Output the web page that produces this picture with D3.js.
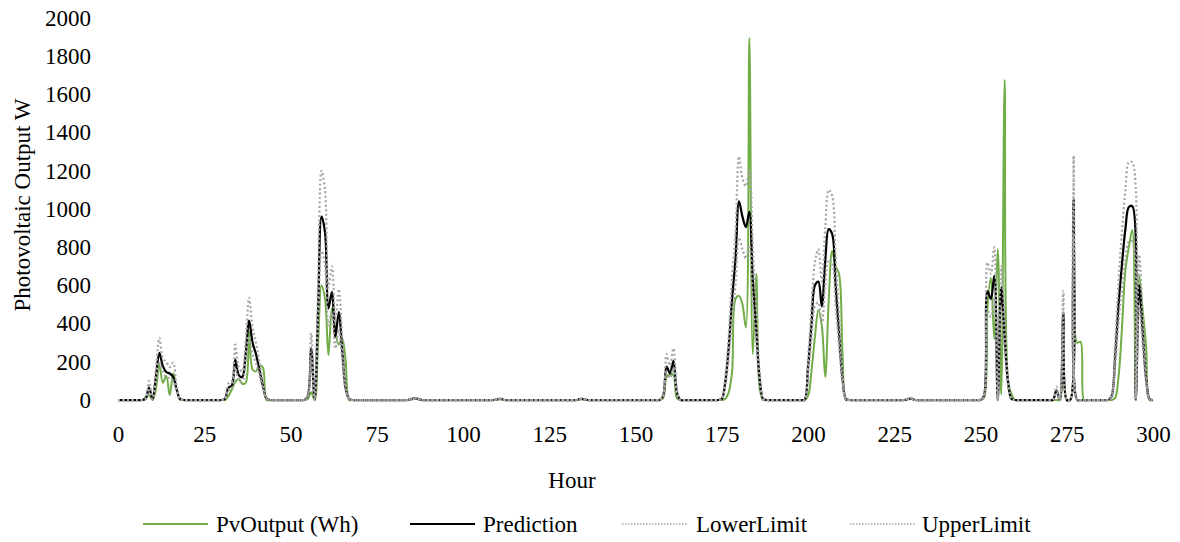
<!DOCTYPE html>
<html><head><meta charset="utf-8">
<script src="https://cdn.jsdelivr.net/npm/d3@7"></script>
<style>
body{margin:0;background:#fff}
svg{display:block}
</style>
</head><body>
<svg id="chart" width="1180" height="542"></svg>
<script>
// ---- data (hours 0..300; hours outside the listed segments are 0) ----
const xTicks = [0,25,50,75,100,125,150,175,200,225,250,275,300];
const yTicks = [0,200,400,600,800,1000,1200,1400,1600,1800,2000];
const seriesNames = ["PvOutput (Wh)","Prediction","LowerLimit","UpperLimit"];
const segmentStart = [7, 30, 54, 84, 109, 133, 157, 174, 198, 228, 249, 270, 286];

const pvOutput = [
  [0,15,25,0,60,185,90,125,25,140,60,0,0],
  [0,0,20,55,95,110,85,90,360,160,150,180,170,0,0,0],
  [0,5,40,0,300,600,530,235,480,360,290,320,200,0,0],
  [0,3,5,4,0],
  [0,3,4,0],
  [0,4,3,0],
  [0,10,120,135,130,10,0],
  [0,0,5,40,150,530,545,500,380,1895,240,660,60,0,0],
  [0,0,20,150,330,470,390,120,520,780,700,660,250,0,0],
  [0,4,5,0],
  [0,0,10,480,640,320,790,30,1675,100,30,0,0],
  [0,0,0,0,230,0,0,950,300,305,0,0],
  [0,0,0,10,120,375,680,800,890,0,650,470,280,0,0]
];
const prediction = [
  [0,5,65,5,125,247,177,146,139,121,55,5,0],
  [0,5,65,75,212,130,120,240,415,300,240,160,75,10,0,0],
  [0,20,270,0,470,960,880,480,565,330,460,260,60,5,0],
  [0,5,8,6,0],
  [0,5,6,0],
  [0,6,5,0],
  [0,20,175,140,205,40,0],
  [0,5,90,270,530,740,1040,960,905,985,630,370,110,5,0],
  [0,0,170,390,600,620,490,730,895,870,600,350,110,5,0],
  [0,6,7,0],
  [0,0,20,570,530,650,0,590,330,90,5,0,0],
  [0,0,50,0,458,0,0,1048,0,0,0,0],
  [0,0,20,220,495,710,895,1010,1015,0,600,360,115,5,0]
];
const lowerLimit = [
  [0,4,50,4,100,200,145,120,114,100,45,4,0],
  [0,4,50,60,170,105,95,195,335,240,195,130,60,8,0,0],
  [0,15,215,0,380,780,710,390,460,270,370,210,50,4,0],
  [0,4,6,5,0],
  [0,4,5,0],
  [0,5,4,0],
  [0,15,140,115,165,30,0],
  [0,4,75,220,430,610,850,790,740,810,520,300,90,4,0],
  [0,0,140,320,490,510,400,600,735,715,490,285,90,4,0],
  [0,5,6,0],
  [0,0,15,470,435,535,0,485,270,75,4,0,0],
  [0,0,40,0,375,0,0,860,0,0,0,0],
  [0,0,15,180,405,580,735,830,830,0,490,295,95,4,0]
];
const upperLimit = [
  [0,6,100,6,160,325,220,198,172,195,70,6,0],
  [0,6,85,100,290,170,150,300,535,380,300,200,90,12,0,0],
  [0,25,350,0,600,1200,1100,590,700,410,580,320,80,6,0],
  [0,6,10,7,0],
  [0,6,7,0],
  [0,7,6,0],
  [0,25,240,180,270,55,0],
  [0,6,115,330,650,880,1275,1160,1120,1200,800,480,140,6,0],
  [0,0,210,480,720,790,620,900,1100,1070,750,440,140,6,0],
  [0,7,8,0],
  [0,0,25,720,660,800,0,700,420,110,6,0,0],
  [0,0,70,0,570,0,0,1280,0,0,0,0],
  [0,0,25,280,620,880,1100,1245,1245,0,760,440,150,6,0]
];

// ---- assemble full hourly series from the segments ----
function expand(segs){
  const out = d3.range(0,301).map(h => ({h, v:0}));
  segs.forEach((vals,i) => vals.forEach((v,j) => { out[segmentStart[i]+j].v = v; }));
  return out;
}
const series = [
  {name:seriesNames[0], data:expand(pvOutput),   color:"#70AD47", width:2,   dash:null},
  {name:seriesNames[1], data:expand(prediction), color:"#000000", width:2.25,dash:null},
  {name:seriesNames[2], data:expand(lowerLimit), color:"#A6A6A6", width:2.25,dash:"2,2.5"},
  {name:seriesNames[3], data:expand(upperLimit), color:"#A6A6A6", width:2.25,dash:"2,2.5"}
];

const FONT = "'Liberation Serif', Tinos, 'Times New Roman', 'DejaVu Serif', serif";
const FS = "23px";

const svg = d3.select("#chart");
const x = d3.scaleLinear().domain([0,300]).range([118,1153]);
const y = d3.scaleLinear().domain([0,2000]).range([400,18]);

// axes (labels only)
const gx = svg.append("g").attr("transform","translate(0,400)")
  .call(d3.axisBottom(x).tickValues(xTicks).tickSize(0).tickPadding(26).tickFormat(d3.format("d")));
gx.select(".domain").remove();
gx.attr("font-family", FONT).attr("font-size", null);
gx.selectAll("text").style("font-family", FONT).style("font-size", FS).attr("fill","#000");

const gy = svg.append("g").attr("transform","translate(91,0)")
  .call(d3.axisLeft(y).tickValues(yTicks).tickSize(0).tickPadding(0).tickFormat(d3.format("d")));
gy.select(".domain").remove();
gy.attr("font-family", FONT).attr("font-size", null);
gy.selectAll("text").style("font-family", FONT).style("font-size", FS).attr("fill","#000");

// lines
const line = d3.line().x(d => x(d.h)).y(d => y(d.v)).curve(d3.curveCatmullRom.alpha(0.5));
series.forEach(s => {
  svg.append("path").datum(s.data)
    .attr("d", line)
    .attr("fill","none")
    .attr("stroke", s.color)
    .attr("stroke-width", s.width)
    .attr("stroke-dasharray", s.dash)
    .attr("stroke-linejoin","round");
});

// axis titles
svg.append("text").attr("x",572).attr("y",480).attr("text-anchor","middle")
  .attr("dominant-baseline","central").style("font-family",FONT).style("font-size",FS).text("Hour");
svg.append("text").attr("transform","translate(22,205) rotate(-90)").attr("text-anchor","middle")
  .attr("dominant-baseline","central").style("font-family",FONT).style("font-size",FS).text("Photovoltaic Output W");

// legend
const legendPos = [
  {x1:143, x2:208, tx:216},
  {x1:410, x2:475, tx:483},
  {x1:622, x2:687, tx:696},
  {x1:850, x2:915, tx:922}
];
const lg = svg.append("g");
series.forEach((s,i) => {
  const p = legendPos[i];
  lg.append("line").attr("x1",p.x1).attr("x2",p.x2).attr("y1",524).attr("y2",524)
    .attr("stroke",s.color).attr("stroke-width",s.dash ? 1.5 : 2)
    .attr("stroke-dasharray", s.dash ? "1.5,1.5" : null);
  lg.append("text").attr("x",p.tx).attr("y",524).attr("dominant-baseline","central")
    .style("font-family",FONT).style("font-size",FS).text(s.name);
});
</script>
</body></html>
